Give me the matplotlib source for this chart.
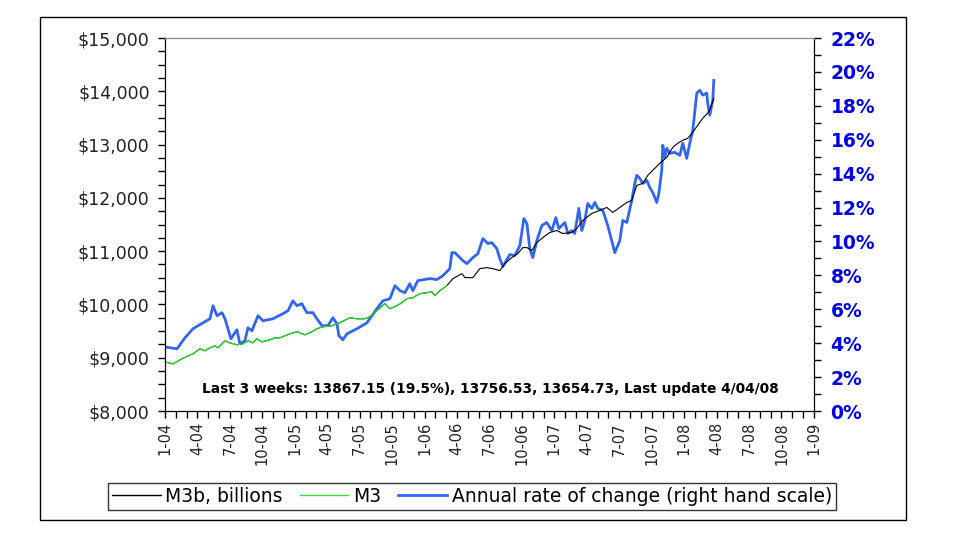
import matplotlib.pyplot as plt
from matplotlib.ticker import MultipleLocator, FuncFormatter
from matplotlib.patches import Rectangle

# x values are months since 1 Jan 2004 (weekly data)
rate_t = [0.0, 0.46, 1.11, 1.85, 2.59, 3.51, 4.16, 4.44, 4.81, 5.27,
          5.55, 6.10, 6.65, 6.93, 7.39, 7.67, 8.04, 8.60, 9.06, 9.98,
          10.91, 11.37, 11.83, 12.20, 12.66, 13.12, 13.68, 14.05, 14.51, 15.06,
          15.53, 15.90, 16.08, 16.45, 16.82, 17.74, 18.67, 19.59, 20.15, 20.79,
          21.26, 21.72, 22.18, 22.64, 22.92, 23.38, 24.49, 25.14, 25.69, 26.34,
          26.52, 26.80, 27.54, 27.91, 28.47, 28.93, 29.39, 29.85, 30.22, 30.68,
          30.96, 31.24, 31.89, 32.35, 32.81, 33.18, 33.46, 33.73, 34.01, 34.38,
          34.84, 35.30, 35.77, 36.14, 36.41, 36.97, 37.25, 37.62, 37.89, 38.26,
          38.54, 38.82, 39.09, 39.46, 39.74, 40.02, 40.48, 40.94, 41.59, 42.05,
          42.33, 42.70, 43.16, 43.44, 43.62, 43.90, 44.18, 44.55, 44.82, 45.10,
          45.47, 45.66, 45.93, 46.03, 46.21, 46.40, 46.67, 47.13, 47.60, 47.87,
          48.24, 48.52, 48.80, 49.17, 49.45, 49.72, 50.09, 50.18, 50.37, 50.65,
          50.74]
rate_pct = [3.78, 3.73, 3.67, 4.32, 4.85, 5.20, 5.44, 6.21, 5.62, 5.80,
            5.44, 4.26, 4.79, 3.96, 4.14, 4.91, 4.73, 5.62, 5.32, 5.44,
            5.74, 5.91, 6.50, 6.21, 6.33, 5.80, 5.80, 5.44, 5.03, 5.03,
            5.50, 5.14, 4.44, 4.20, 4.55, 4.85, 5.20, 6.03, 6.50, 6.62,
            7.39, 7.10, 6.98, 7.51, 7.10, 7.69, 7.81, 7.75, 7.98, 8.40,
            9.34, 9.34, 8.87, 8.69, 9.05, 9.28, 10.17, 9.88, 9.93, 9.58,
            8.99, 8.52, 9.23, 9.17, 9.76, 11.35, 11.06, 9.58, 9.05, 10.05,
            10.94, 11.12, 10.64, 11.41, 10.76, 11.12, 10.47, 10.64, 10.47, 11.95,
            10.64, 11.24, 12.24, 11.95, 12.30, 11.95, 11.83, 10.94, 9.34, 10.05,
            11.24, 11.12, 12.42, 13.42, 13.90, 13.72, 13.42, 13.60, 13.19, 12.89,
            12.30, 12.83, 14.19, 15.67, 14.96, 15.49, 15.20, 15.26, 15.08, 15.79,
            14.90, 15.79, 16.56, 18.75, 18.92, 18.63, 18.75, 18.15, 17.45, 18.33,
            19.5]

m3b_t = [0.0, 0.74, 1.39, 2.13, 2.59, 3.23, 3.70, 4.16, 4.62, 4.90,
         5.55, 6.01, 6.65, 7.21, 7.67, 8.13, 8.50, 8.96, 9.70, 10.17,
         10.63, 11.09, 11.55, 12.20, 12.48, 12.94, 13.59, 14.05, 14.60, 15.43,
         16.17, 17.10, 17.74, 18.48, 18.95, 19.59, 20.33, 20.79, 21.44, 21.90,
         22.37, 22.92, 23.57, 24.21, 24.68, 24.95, 25.42, 26.06,
         26.62, 27.45, 27.73, 28.47, 29.11, 29.76, 30.31, 30.96, 31.42, 32.07,
         32.62, 33.09, 33.46, 33.92, 34.38, 34.94, 35.58, 36.23, 36.78, 37.62,
         38.08, 38.63, 39.46, 40.20, 40.85, 41.40, 42.05, 42.70, 43.16, 43.62,
         44.18, 44.64, 45.10, 45.75, 46.40, 46.95, 47.41, 47.87, 48.34, 48.80,
         49.26, 49.72, 50.18, 50.37, 50.55, 50.74]
m3b_vals = [8922, 8884, 8960, 9035, 9073, 9167, 9129, 9186, 9223, 9186,
            9317, 9280, 9242, 9261, 9317, 9280, 9355, 9298, 9336, 9374,
            9374, 9411, 9449, 9487, 9468, 9430, 9487, 9543, 9581, 9600,
            9656, 9750, 9731, 9731, 9769, 9882, 10014, 9919, 9976, 10032,
            10108, 10126, 10202, 10220, 10239, 10164, 10258, 10352,
            10484, 10578, 10503, 10503, 10672, 10691, 10672, 10635, 10766, 10879,
            10954, 11067, 11067, 11011, 11161, 11256, 11350, 11387, 11331, 11350,
            11425, 11575, 11707, 11764, 11820, 11726, 11820, 11914, 11952, 12234,
            12272, 12422, 12516, 12648, 12761, 12949, 13024, 13081, 13118, 13231,
            13363, 13495, 13590, 13655, 13757, 13867]

m3_t = [0.0, 0.74, 1.39, 2.13, 2.59, 3.23, 3.70, 4.16, 4.62, 4.90,
        5.55, 6.01, 6.65, 7.21, 7.67, 8.13, 8.50, 8.96, 9.70, 10.17,
        10.63, 11.09, 11.55, 12.20, 12.48, 12.94, 13.59, 14.05, 14.60, 15.43,
        16.17, 17.10, 17.74, 18.48, 18.95, 19.59, 20.33, 20.79, 21.44, 21.90,
        22.37, 22.92, 23.57, 24.21, 24.68, 24.95, 25.42, 26.06]
m3_vals = [8922, 8884, 8960, 9035, 9073, 9167, 9129, 9186, 9223, 9186,
           9317, 9280, 9242, 9261, 9317, 9280, 9355, 9298, 9336, 9374,
           9374, 9411, 9449, 9487, 9468, 9430, 9487, 9543, 9581, 9600,
           9656, 9750, 9731, 9731, 9769, 9882, 10014, 9919, 9976, 10032,
           10108, 10126, 10202, 10220, 10239, 10164, 10258, 10352]

tick_labels = ['1-04', '4-04', '7-04', '10-04', '1-05', '4-05', '7-05', '10-05',
               '1-06', '4-06', '7-06', '10-06', '1-07', '4-07', '7-07', '10-07',
               '1-08', '4-08', '7-08', '10-08', '1-09']

note = 'Last 3 weeks: 13867.15 (19.5%), 13756.53, 13654.73, Last update 4/04/08'

plt.rcParams['font.family'] = ['DejaVu Sans']

fig = plt.figure(figsize=(9.67, 5.36), dpi=100)
ax = fig.add_axes([0.1706, 0.2332, 0.6711, 0.6959])
ax2 = ax.twinx()
ax.set_zorder(ax2.get_zorder() + 1)
ax.patch.set_visible(False)

l_rate, = ax2.plot(rate_t, rate_pct, color='#3366f0', lw=2.0,
                   label='Annual rate of change (right hand scale)')
l_m3b, = ax.plot(m3b_t, m3b_vals, color='black', lw=0.8, label='M3b, billions')
l_m3, = ax.plot(m3_t, m3_vals, color='#33dd33', lw=0.9, label='M3')

ax.set_xlim(0, 60)
ax.set_ylim(8000, 15000)
ax2.set_ylim(0, 22)

ax.set_xticks(range(0, 61, 3))
ax.set_xticklabels(tick_labels, rotation=90, fontsize=10.5, color='#222222')
ax.xaxis.set_minor_locator(MultipleLocator(1))
ax.yaxis.set_major_locator(MultipleLocator(1000))
ax.yaxis.set_minor_locator(MultipleLocator(250))
ax.yaxis.set_major_formatter(FuncFormatter(lambda v, p: '${:,.0f}'.format(v)))
ax2.yaxis.set_major_locator(MultipleLocator(2))
ax2.yaxis.set_minor_locator(MultipleLocator(1))
ax2.yaxis.set_major_formatter(FuncFormatter(lambda v, p: '{:.0f}%'.format(v)))

ax.tick_params(axis='x', which='both', direction='out', length=5, width=1, pad=3)
ax.tick_params(axis='y', which='both', direction='out', length=5, width=1,
               pad=6, labelsize=12.5, labelcolor='#222222')
ax2.tick_params(axis='y', which='both', direction='out', length=5, width=1, pad=7,
                labelsize=13.5, labelcolor='#0000e0')
for lab in ax2.get_yticklabels():
    lab.set_fontweight('bold')

for a in (ax, ax2):
    a.spines['top'].set_color('#888888')
    a.spines['left'].set_color('black')
    a.spines['right'].set_color('black')
    a.spines['bottom'].set_color('black')

fig.text(490 / 967, 1 - 389 / 536, note, ha='center', va='center',
         fontsize=9.9, fontweight='bold')

leg = fig.legend(handles=[l_m3b, l_m3, l_rate], loc='center',
                 bbox_to_anchor=(0.488, 0.0737), ncol=3, fontsize=13.5,
                 frameon=True, fancybox=False, edgecolor='black',
                 handlelength=2.6, handletextpad=0.25, columnspacing=0.9,
                 borderpad=0.2)
leg.get_frame().set_linewidth(1)
for h, w in zip(leg.get_lines(), [1.0, 1.0, 2.0]):
    h.set_linewidth(w)

fig.add_artist(Rectangle((0.0414, 0.0299), 0.8956, 0.9384, transform=fig.transFigure,
                         fill=False, ec='black', lw=1))

fig.savefig('out.png', dpi=100)
